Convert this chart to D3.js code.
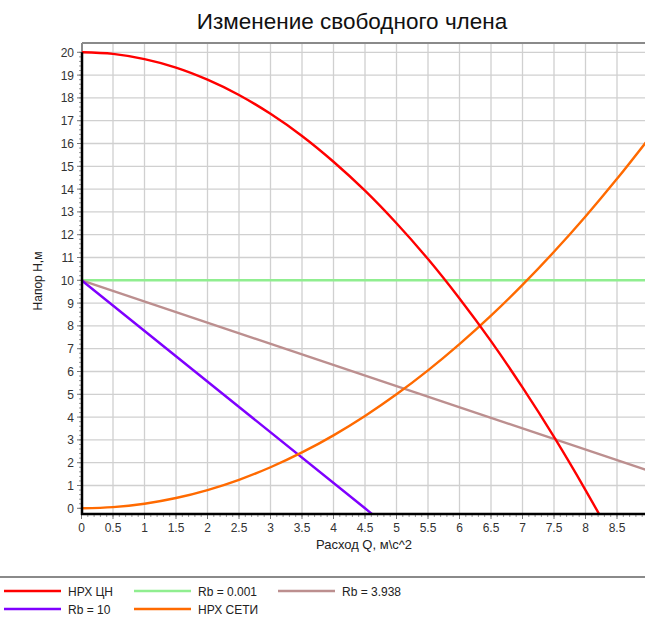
<!DOCTYPE html>
<html>
<head>
<meta charset="utf-8">
<script src="https://cdn.jsdelivr.net/npm/d3@7"></script>
<style>
  html, body { margin: 0; padding: 0; background: #fff; overflow: hidden; }
  svg { display: block; font-family: "Liberation Sans", Arial, sans-serif; }
</style>
</head>
<body>
<svg id="chart" width="645" height="619"></svg>
<script>
// Pump and network head curves, flow Q in m^3/s, head H in m
const flowQ = [0, 0.5, 1, 1.5, 2, 2.5, 3, 3.5, 4, 4.5, 5, 5.5, 6, 6.5, 7, 7.5, 8, 8.5, 9];
const pumpHead = [20, 19.93, 19.7, 19.33, 18.8, 18.13, 17.3, 16.33, 15.2, 13.93, 12.5, 10.93, 9.2, 7.33, 5.3, 3.13, 0.8, -1.68, -4.3];
const networkHead = [0, 0.05, 0.2, 0.45, 0.8, 1.25, 1.8, 2.45, 3.2, 4.05, 5, 6.05, 7.2, 8.45, 9.8, 11.25, 12.8, 14.45, 16.2];

// Straight resistance lines: [Q, H] end points
const rb0001 = [[0, 10], [9, 10]];
const rb3938 = [[0, 10], [9, 1.65]];
const rb10 = [[0, 10], [4.5, 0], [4.7, -0.45]];

const xTicks = [0, 0.5, 1, 1.5, 2, 2.5, 3, 3.5, 4, 4.5, 5, 5.5, 6, 6.5, 7, 7.5, 8, 8.5];
const yTicks = d3.range(0, 21);

const seriesNames = ["НРХ ЦН", "Rb = 0.001", "Rb = 3.938", "Rb = 10", "НРХ СЕТИ"];
const seriesColors = ["#ff0000", "#90ee90", "#bc8f8f", "#7f00ff", "#ff6a00"];

const svg = d3.select("#chart");

const plot = { left: 82, right: 648.5, top: 43, bottom: 514 };
const x = d3.scaleLinear().domain([0, 9]).range([81.5, 648.5]);
const y = d3.scaleLinear().domain([0, 20]).range([508.3, 52.3]);

// Title
svg.append("text")
  .attr("x", 352).attr("y", 29)
  .attr("text-anchor", "middle")
  .attr("font-size", 22.5)
  .attr("fill", "#111")
  .text("Изменение свободного члена");

// Grid
const grid = svg.append("g").attr("stroke", "#d0d0d0").attr("stroke-width", 1.3);
grid.selectAll("line.v").data(xTicks.filter(d => d > 0)).join("line")
  .attr("x1", d => x(d)).attr("x2", d => x(d))
  .attr("y1", plot.top).attr("y2", plot.bottom);
grid.selectAll("line.h").data(yTicks.filter(d => d > 0)).join("line")
  .attr("x1", plot.left).attr("x2", plot.right)
  .attr("y1", d => y(d)).attr("y2", d => y(d));

// Frame
svg.append("line").attr("x1", plot.left).attr("x2", 645)
  .attr("y1", plot.top).attr("y2", plot.top)
  .attr("stroke", "#8a8a8a").attr("stroke-width", 2);
svg.append("line").attr("x1", plot.left).attr("x2", plot.left)
  .attr("y1", plot.top).attr("y2", y(20))
  .attr("stroke", "#8a8a8a").attr("stroke-width", 2);

// Curves, clipped to plot area
svg.append("clipPath").attr("id", "clip").append("rect")
  .attr("x", plot.left).attr("y", plot.top)
  .attr("width", plot.right - plot.left).attr("height", plot.bottom - plot.top);

const curves = svg.append("g").attr("clip-path", "url(#clip)")
  .attr("fill", "none").attr("stroke-width", 2.4).attr("stroke-linejoin", "round");

const smooth = d3.line().x(d => x(d[0])).y(d => y(d[1])).curve(d3.curveCatmullRom);
const straight = d3.line().x(d => x(d[0])).y(d => y(d[1]));

const pumpPts = flowQ.map((q, i) => [q, pumpHead[i]]);
const netPts = flowQ.map((q, i) => [q, networkHead[i]]);

curves.append("path").attr("d", straight(rb0001)).attr("stroke", seriesColors[1]);
curves.append("path").attr("d", straight(rb3938)).attr("stroke", seriesColors[2]);
curves.append("path").attr("d", straight(rb10)).attr("stroke", seriesColors[3]);
curves.append("path").attr("d", smooth(netPts)).attr("stroke", seriesColors[4]);
curves.append("path").attr("d", smooth(pumpPts)).attr("stroke", seriesColors[0]);

// Axes
const xMinor = d3.range(0, 91).map(d => d / 10);
const yMinor = d3.range(0, 101).map(d => d / 5);

const axisX = svg.append("g");
axisX.selectAll("line.minor").data(xMinor).join("line")
  .attr("x1", d => x(d)).attr("x2", d => x(d))
  .attr("y1", plot.bottom).attr("y2", plot.bottom + 3)
  .attr("stroke", "#999").attr("stroke-width", 1);
axisX.selectAll("line.major").data(xTicks).join("line")
  .attr("x1", d => x(d)).attr("x2", d => x(d))
  .attr("y1", plot.bottom).attr("y2", plot.bottom + 5)
  .attr("stroke", "#777").attr("stroke-width", 1);
axisX.selectAll("text").data(xTicks).join("text")
  .attr("x", d => x(d)).attr("y", 532)
  .attr("text-anchor", "middle").attr("font-size", 12).attr("fill", "#333")
  .text(d => d);

const axisY = svg.append("g");
axisY.selectAll("line.minor").data(yMinor).join("line")
  .attr("x1", plot.left - 3).attr("x2", plot.left)
  .attr("y1", d => y(d)).attr("y2", d => y(d))
  .attr("stroke", "#999").attr("stroke-width", 1);
axisY.selectAll("line.major").data(yTicks).join("line")
  .attr("x1", plot.left - 5).attr("x2", plot.left)
  .attr("y1", d => y(d)).attr("y2", d => y(d))
  .attr("stroke", "#777").attr("stroke-width", 1);
axisY.selectAll("text").data(yTicks).join("text")
  .attr("x", 74).attr("y", d => y(d) + 4.5)
  .attr("text-anchor", "end").attr("font-size", 12).attr("fill", "#333")
  .text(d => d);

svg.append("line").attr("x1", plot.left - 1).attr("x2", 645)
  .attr("y1", plot.bottom).attr("y2", plot.bottom)
  .attr("stroke", "#000").attr("stroke-width", 2.5);
svg.append("line").attr("x1", plot.left).attr("x2", plot.left)
  .attr("y1", y(20)).attr("y2", plot.bottom + 1)
  .attr("stroke", "#000").attr("stroke-width", 2.5);

// Axis titles
svg.append("text")
  .attr("x", 364).attr("y", 549)
  .attr("text-anchor", "middle").attr("font-size", 13).attr("fill", "#222")
  .text("Расход Q, м\\с^2");
svg.append("text")
  .attr("transform", "translate(42,281) rotate(-90)")
  .attr("text-anchor", "middle").attr("font-size", 12).attr("fill", "#222")
  .text("Напор Н,м");

// Legend
svg.append("line").attr("x1", 0).attr("x2", 645)
  .attr("y1", 577).attr("y2", 577)
  .attr("stroke", "#8a8a8a").attr("stroke-width", 2);

const legendPos = [[4, 591], [134, 591], [278, 591], [4, 609], [134, 609]];
const legend = svg.append("g").selectAll("g").data(seriesNames).join("g")
  .attr("transform", (d, i) => `translate(${legendPos[i][0]},${legendPos[i][1]})`);
legend.append("line").attr("x1", 0).attr("x2", 57)
  .attr("stroke", (d, i) => seriesColors[i]).attr("stroke-width", 2.4);
legend.append("text").attr("x", 64).attr("y", 4.5)
  .attr("font-size", 12).attr("fill", "#222")
  .text(d => d);
</script>
</body>
</html>
